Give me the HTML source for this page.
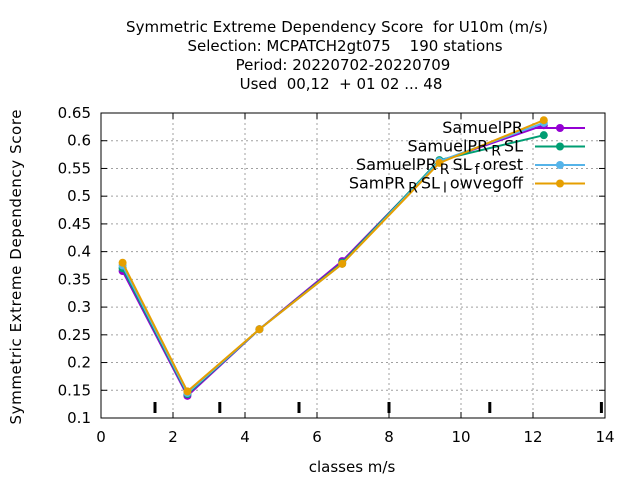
<!DOCTYPE html>
<html><head><meta charset="utf-8"><style>body{margin:0;background:#fff}svg{font-family:"DejaVu Sans","Liberation Sans",sans-serif}text{white-space:pre}</style></head>
<body>
<svg id="chart" width="640" height="480" xmlns="http://www.w3.org/2000/svg" xml:space="preserve">
<g id="title" font-size="15" text-anchor="middle" fill="#000">
<text x="337" y="32" textLength="422">Symmetric Extreme Dependency Score  for U10m (m/s)</text>
<text x="345" y="51">Selection: MCPATCH2gt075    190 stations</text>
<text x="343" y="70">Period: 20220702-20220709</text>
<text x="341" y="89">Used  00,12  + 01 02 ... 48</text>
</g>
<g id="grid"></g>
<g id="axes"></g>
<g id="series"></g>
<g id="legend"></g>
<text x="352" y="472" font-size="15" text-anchor="middle">classes m/s</text>
<text transform="translate(21,267) rotate(-90)" font-size="15" text-anchor="middle" textLength="315">Symmetric Extreme Dependency Score</text>
</svg>
<script>
const xTicks=[0,2,4,6,8,10,12,14];
const yTicks=[0.1,0.15,0.2,0.25,0.3,0.35,0.4,0.45,0.5,0.55,0.6,0.65];
const yTickLabels=["0.1","0.15","0.2","0.25","0.3","0.35","0.4","0.45","0.5","0.55","0.6","0.65"];
const classBounds=[1.5,3.3,5.5,8,10.8,13.9];
const xValues=[0.6,2.4,4.4,6.7,9.4,12.3];
const seriesNames=["SamuelPR","SamuelPR_RSL","SamuelPR_RSL_forest","SamPR_RSL_lowvegoff"];
const seriesColors=["#9400d3","#009e73","#56b4e9","#e69f00"];
const sSamuelPR=[0.365,0.140,0.260,0.383,0.563,0.628];
const sRSL=[0.370,0.143,0.260,0.380,0.565,0.610];
const sForest=[0.375,0.145,0.260,0.378,0.563,0.632];
const sLowveg=[0.380,0.148,0.260,0.378,0.560,0.637];
const allSeries=[sSamuelPR,sRSL,sForest,sLowveg];
const L=101,R=605,T=113,B=418;
const xs=v=>L+(v-0)/14*(R-L);
const ys=v=>B-(v-0.1)/0.55*(B-T);
const NS="http://www.w3.org/2000/svg";
function mk(tag,attrs,parent){const e=document.createElementNS(NS,tag);for(const k in attrs)e.setAttribute(k,attrs[k]);parent.appendChild(e);return e;}
const grid=document.getElementById('grid'),axes=document.getElementById('axes'),ser=document.getElementById('series'),leg=document.getElementById('legend');
xTicks.forEach((t,i)=>{const x=xs(t);
 if(i>0&&i<xTicks.length-1){const g=mk('line',{x1:x,x2:x,y1:T,y2:B,stroke:'#a0a0a0','stroke-dasharray':'2,3'},grid);}
 mk('line',{x1:x,x2:x,y1:B,y2:B-6,stroke:'#000'},axes);mk('line',{x1:x,x2:x,y1:T,y2:T+6,stroke:'#000'},axes);
 const tx=mk('text',{x:x,y:B+24,'font-size':15,'text-anchor':'middle'},axes);tx.textContent=t;
 });
yTicks.forEach((t,i)=>{const y=ys(t);
 if(i>0&&i<yTicks.length-1){const g=mk('line',{x1:L,x2:R,y1:y,y2:y,stroke:'#a0a0a0','stroke-dasharray':'2,3'},grid);}
 mk('line',{x1:L,x2:L+6,y1:y,y2:y,stroke:'#000'},axes);mk('line',{x1:R,x2:R-6,y1:y,y2:y,stroke:'#000'},axes);
 const tx=mk('text',{x:L-10,y:y+5,'font-size':15,'text-anchor':'end'},axes);tx.textContent=yTickLabels[i];
 });
const frame=mk('rect',{x:L,y:T,width:R-L,height:B-T,fill:'none',stroke:'#000'},axes);


classBounds.forEach(c=>{const l=mk('line',{x1:xs(c),x2:xs(c),y1:B-16,y2:B-5,stroke:'#000','stroke-width':3},axes);
 });
allSeries.forEach((s,si)=>{const c=seriesColors[si];
 const pts=s.map((v,i)=>xs(xValues[i])+','+ys(v)).join(' ');
 const pl=mk('polyline',{points:pts,fill:'none',stroke:c,'stroke-width':2},ser);
 
 s.forEach((v,i)=>{const p=mk('circle',{cx:xs(xValues[i]),cy:ys(v),r:4,fill:c},ser);
  });
 const ly=128+si*18.5;
 const e=mk('g',{},leg);
 mk('line',{x1:535,x2:585,y1:ly,y2:ly,stroke:c,'stroke-width':2},e);mk('circle',{cx:560,cy:ly,r:4,fill:c},e);
 const tx=mk('text',{x:523,y:ly+5,'font-size':16,'text-anchor':'end'},e);
 const n=seriesNames[si].split('_');
 tx.appendChild(document.createTextNode(n[0]));
 for(let k=1;k<n.length;k++){const sub=n[k].charAt(0),rest=n[k].slice(1);
  const t1=mk('tspan',{dx:3,dy:4,'font-size':14},tx);t1.textContent=sub;
  const t2=mk('tspan',{dx:3,dy:-4},tx);t2.textContent=rest;}
});
</script>
</body></html>
